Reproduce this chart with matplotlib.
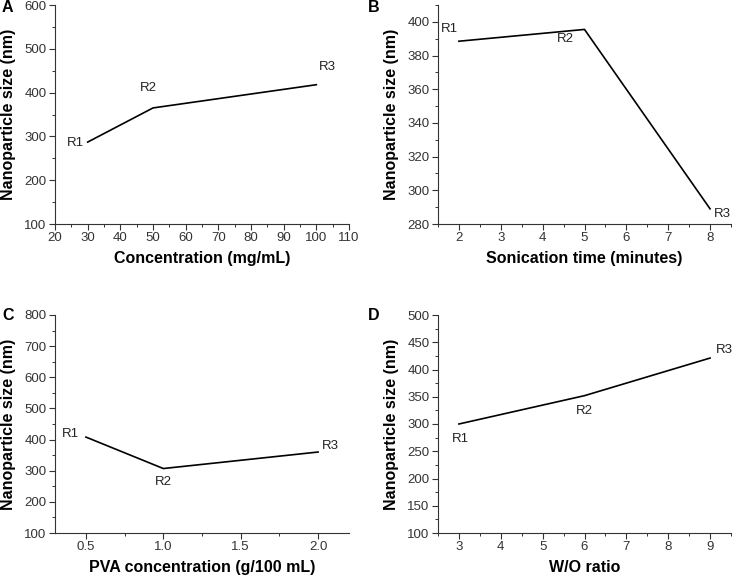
import matplotlib.pyplot as plt
from matplotlib.ticker import MultipleLocator

plt.rcParams['font.family'] = ['Liberation Sans', 'DejaVu Sans']

point_labels = ["R1", "R2", "R3"]

# A: concentration
conc_x = [30, 50, 100]
conc_y = [287, 365, 418]

# B: sonication time
son_x = [2, 5, 8]
son_y = [388.5, 395.5, 289]

# C: PVA concentration
pva_x = [0.5, 1.0, 2.0]
pva_y = [408, 307, 360]

# D: W/O ratio
wo_x = [3, 6, 9]
wo_y = [300, 352, 421]

fig = plt.figure(figsize=(7.32, 5.77), dpi=100)
W, H = 732, 577


def make_ax(left, top, right, bottom):
    return fig.add_axes([left / W, 1 - bottom / H, (right - left) / W, (bottom - top) / H])


def style(ax, xlim, ylim, xmaj, xmin, ymaj, ymin, xlabel, xfmt=None):
    ax.set_xlim(*xlim)
    ax.set_ylim(*ylim)
    ax.xaxis.set_major_locator(MultipleLocator(xmaj))
    ax.xaxis.set_minor_locator(MultipleLocator(xmin))
    ax.yaxis.set_major_locator(MultipleLocator(ymaj))
    ax.yaxis.set_minor_locator(MultipleLocator(ymin))
    if xfmt:
        ax.xaxis.set_major_formatter(xfmt)
    for s in ['top', 'right']:
        ax.spines[s].set_visible(False)
    for s in ['left', 'bottom']:
        ax.spines[s].set_linewidth(0.8)
        ax.spines[s].set_color('#333333')
    ax.tick_params(which='major', length=4, width=0.8, labelsize=9.5, colors='#333333', pad=2)
    ax.tick_params(which='minor', length=2.5, width=0.7, colors='#333333')
    ax.set_xlabel(xlabel, fontsize=11.5, fontweight='bold', labelpad=5)
    ax.set_ylabel("Nanoparticle size (nm)", fontsize=11.5, fontweight='bold', labelpad=6)


def annotate(ax, xs, ys, offsets):
    for lab, x, y, (dx, dy) in zip(point_labels, xs, ys, offsets):
        ax.annotate(lab, (x, y), xytext=(dx, dy), textcoords='offset points',
                    fontsize=9.5, color='#222222', ha='center', va='center')


def letter(px, py, s):
    fig.text(px / W, 1 - py / H, s, fontsize=11.5, fontweight='bold', ha='left', va='center')


# Panel A
axA = make_ax(55, 5, 349, 224)
axA.plot(conc_x, conc_y, color='black', lw=1.2)
style(axA, (20, 110), (100, 600), 10, 5, 100, 50, "Concentration (mg/mL)")
annotate(axA, conc_x, conc_y, [(-9, -1), (-3, 14), (8, 13)])
letter(2, 8, "A")

# Panel B
axB = make_ax(438, 5, 731, 224)
axB.plot(son_x, son_y, color='black', lw=1.2)
style(axB, (1.5, 8.5), (280, 410), 1, 0.5, 20, 10, "Sonication time (minutes)")
annotate(axB, son_x, son_y, [(-7, 9), (-14, -7), (9, -4)])
letter(368, 8, "B")

# Panel C
axC = make_ax(55, 315, 349, 533)
axC.plot(pva_x, pva_y, color='black', lw=1.2)
style(axC, (0.3, 2.2), (100, 800), 0.5, 0.25, 100, 50, "PVA concentration (g/100 mL)",
      xfmt='{x:.1f}')
annotate(axC, pva_x, pva_y, [(-11, 2), (0, -10), (9, 4)])
letter(2, 316, "C")

# Panel D
axD = make_ax(438, 315, 731, 533)
axD.plot(wo_x, wo_y, color='black', lw=1.2)
style(axD, (2.5, 9.5), (100, 500), 1, 0.5, 50, 25, "W/O ratio")
annotate(axD, wo_x, wo_y, [(1, -11), (0, -11), (10, 6)])
letter(368, 316, "D")

fig.savefig("out.png", dpi=100)
